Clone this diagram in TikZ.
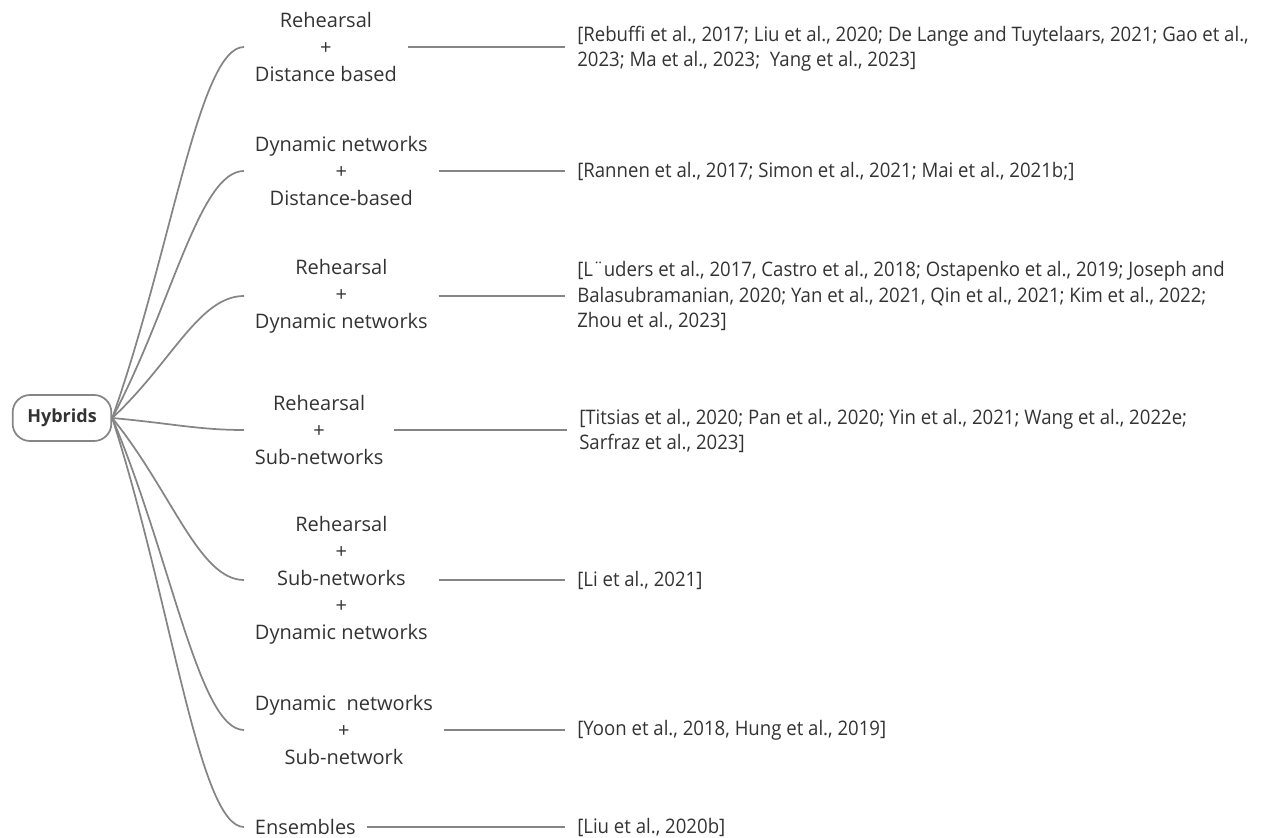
\documentclass[tikz,border=0pt]{standalone}
\usepackage{fontspec}
\setmainfont{Open Sans}
\newfontfamily\citefont{Open Sans}[FakeStretch=0.93]
\usetikzlibrary{calc}
\definecolor{linegray}{HTML}{858585}
\definecolor{textgray}{HTML}{333333}

\begin{document}
\begin{tikzpicture}[
  x=0.75pt, y=-0.75pt,
  every node/.style={text=textgray, font=\fontsize{15}{20.25}\selectfont},
  root/.style={draw=linegray, line width=1.3pt, rounded corners=13pt, minimum width=74pt, minimum height=34.5pt, font=\fontsize{13.5}{16}\selectfont\bfseries},
  branch/.style={align=center, anchor=west, inner xsep=8pt, inner ysep=0pt},
  refs/.style={align=left, anchor=west, inner xsep=9pt, inner ysep=0pt, font=\citefont\fontsize{15}{19}\selectfont},
  twig/.style={draw=linegray, line width=1.3pt},
  link/.style={draw=linegray, line width=1.1pt}
]
\useasboundingbox (0,0) rectangle (1265,838);

\node[root] (h) at (62,418) {Hybrids};

\node[branch] (b1) at (244,47) {Rehearsal\\+\\Distance based};
\node[branch] (b2) at (244,171) {Dynamic networks\\+\\Distance-based};
\node[branch] (b3) at (244,296) {Rehearsal\\+\\Dynamic networks};
\node[branch] (b4) at (244,430) {Rehearsal\\+\\Sub-networks};
\node[branch] (b5) at (244,580) {Rehearsal\\+\\Sub-networks\\+\\Dynamic networks};
\node[branch] (b6) at (244,730) {Dynamic~ networks\\+\\Sub-network};
\node[branch] (b7) at (244,827) {Ensembles};

\node[refs] (r1) at (565,49) {[Rebuffi et al., 2017; Liu et al., 2020; De Lange and Tuytelaars, 2021; Gao et al.,\\2023; Ma et al., 2023;~ Yang et al., 2023]};
\node[refs] (r2) at (565,171) {[Rannen et al., 2017; Simon et al., 2021; Mai et al., 2021b;]};
\node[refs] (r3) at (565,296) {[L¨uders et al., 2017, Castro et al., 2018; Ostapenko et al., 2019; Joseph and\\Balasubramanian, 2020; Yan et al., 2021, Qin et al., 2021; Kim et al., 2022;\\Zhou et al., 2023]};
\node[refs] (r4) at (567,431) {[Titsias et al., 2020; Pan et al., 2020; Yin et al., 2021; Wang et al., 2022e;\\Sarfraz et al., 2023]};
\node[refs] (r5) at (565,580) {[Li et al., 2021]};
\node[refs] (r6) at (565,730) {[Yoon et al., 2018, Hung et al., 2019]};
\node[refs] (r7) at (565,827) {[Liu et al., 2020b]};

\foreach \i in {1,...,7}{
  \draw[twig] (h.east) .. controls ($(h.east)!0.45!(b\i.west)$) and +(-45,0) .. (b\i.west);
  \draw[link] (b\i.east) -- (r\i.west |- b\i.east);
}
\end{tikzpicture}
\end{document}
